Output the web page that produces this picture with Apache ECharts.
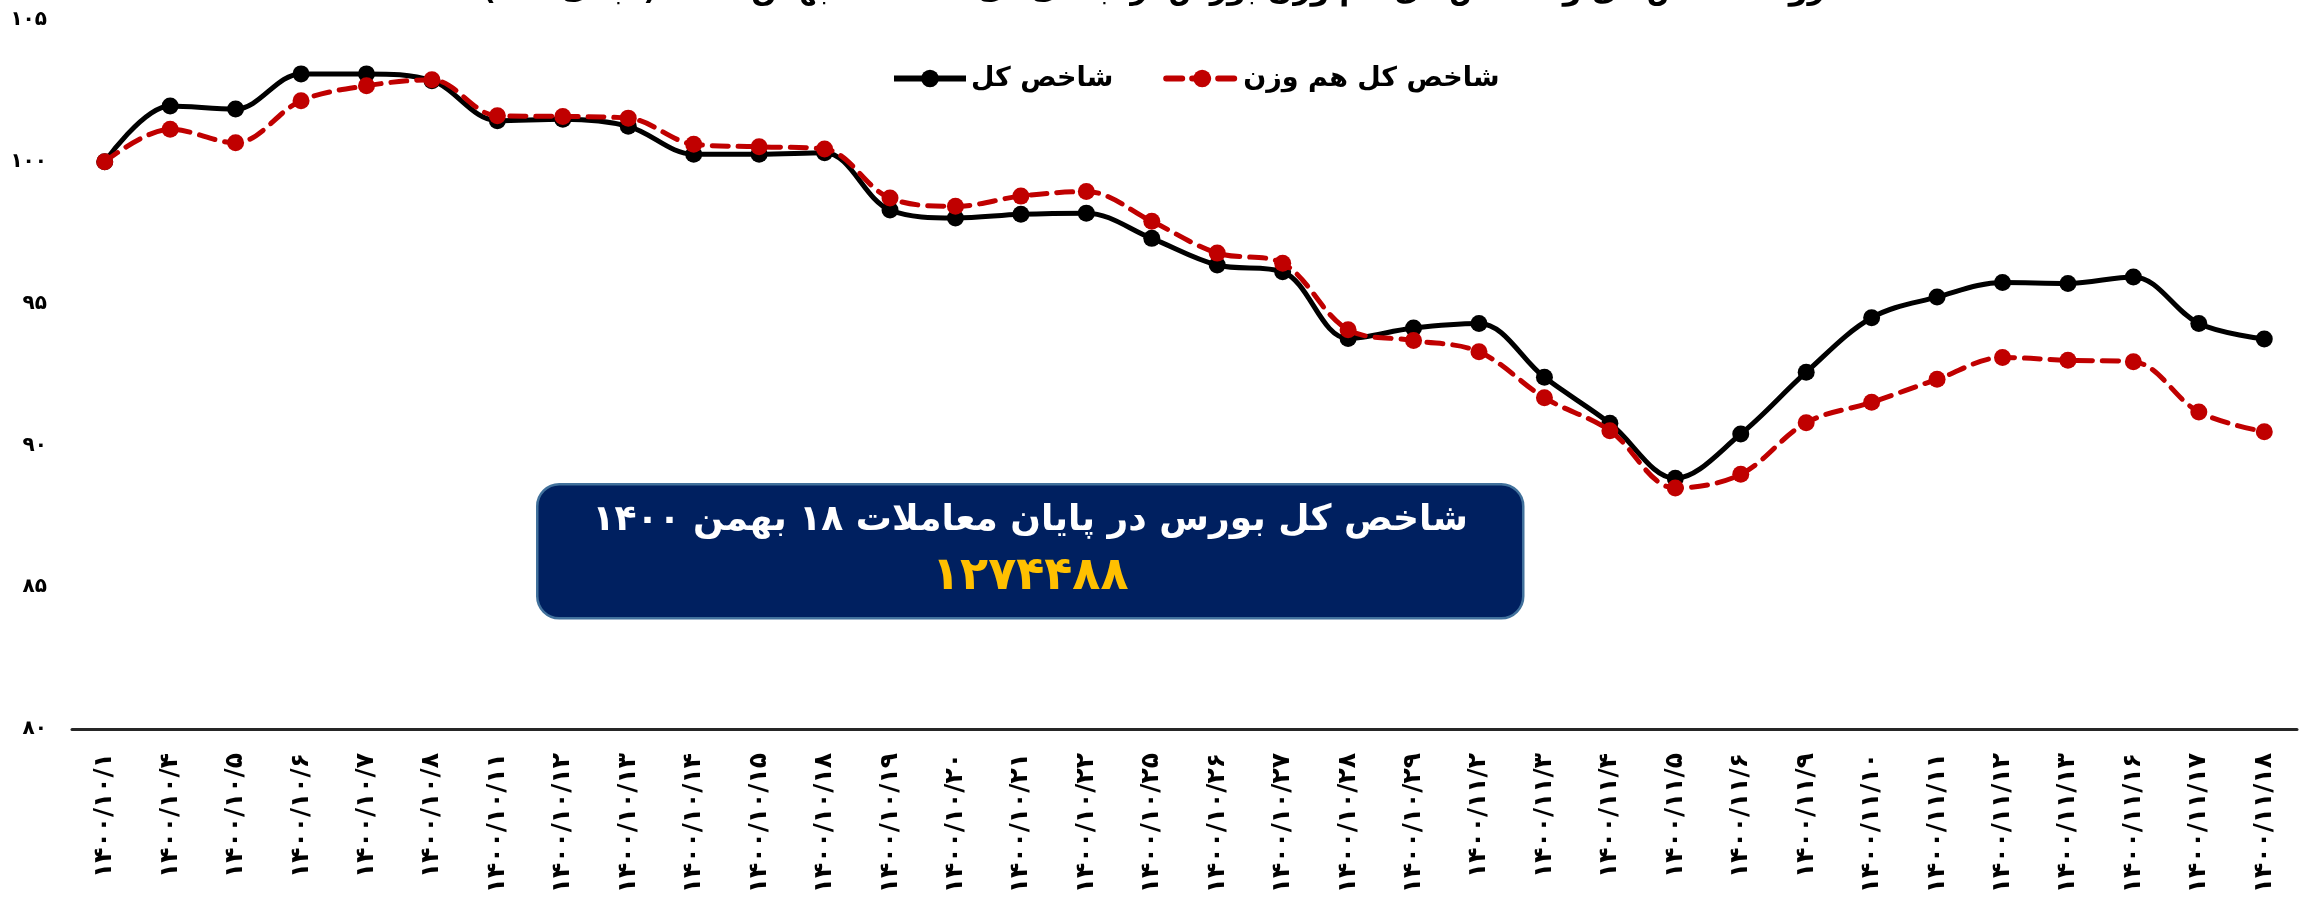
<!DOCTYPE html>
<html>
<head>
<meta charset="utf-8">
<script src="https://cdn.jsdelivr.net/npm/echarts@6/dist/echarts.min.js"></script>
<style>
  html, body { margin: 0; padding: 0; background: #ffffff; }
  #chart { width: 2307px; height: 906px; }
</style>
</head>
<body>
<div id="chart"></div>
<script>
// ---- data ----
var categories = [
  '۱۴۰۰/۱۰/۱', '۱۴۰۰/۱۰/۴', '۱۴۰۰/۱۰/۵', '۱۴۰۰/۱۰/۶', '۱۴۰۰/۱۰/۷', '۱۴۰۰/۱۰/۸',
  '۱۴۰۰/۱۰/۱۱', '۱۴۰۰/۱۰/۱۲', '۱۴۰۰/۱۰/۱۳', '۱۴۰۰/۱۰/۱۴', '۱۴۰۰/۱۰/۱۵', '۱۴۰۰/۱۰/۱۸',
  '۱۴۰۰/۱۰/۱۹', '۱۴۰۰/۱۰/۲۰', '۱۴۰۰/۱۰/۲۱', '۱۴۰۰/۱۰/۲۲', '۱۴۰۰/۱۰/۲۵', '۱۴۰۰/۱۰/۲۶',
  '۱۴۰۰/۱۰/۲۷', '۱۴۰۰/۱۰/۲۸', '۱۴۰۰/۱۰/۲۹', '۱۴۰۰/۱۱/۲', '۱۴۰۰/۱۱/۳', '۱۴۰۰/۱۱/۴',
  '۱۴۰۰/۱۱/۵', '۱۴۰۰/۱۱/۶', '۱۴۰۰/۱۱/۹', '۱۴۰۰/۱۱/۱۰', '۱۴۰۰/۱۱/۱۱', '۱۴۰۰/۱۱/۱۲',
  '۱۴۰۰/۱۱/۱۳', '۱۴۰۰/۱۱/۱۶', '۱۴۰۰/۱۱/۱۷', '۱۴۰۰/۱۱/۱۸'
];
var totalIndex = [
  100.0, 101.97, 101.86, 103.1, 103.1, 102.86, 101.45, 101.5, 101.25, 100.27,
  100.27, 100.32, 98.3, 98.02, 98.15, 98.19, 97.3, 96.36, 96.12, 93.77,
  94.14, 94.3, 92.4, 90.78, 88.84, 90.4, 92.58, 94.5, 95.23, 95.74,
  95.71, 95.94, 94.3, 93.75
];
var equalWeightIndex = [
  100.0, 101.15, 100.67, 102.15, 102.68, 102.89, 101.62, 101.6, 101.54, 100.62,
  100.53, 100.45, 98.72, 98.43, 98.79, 98.95, 97.9, 96.78, 96.42, 94.08,
  93.7, 93.3, 91.68, 90.52, 88.5, 88.98, 90.8, 91.52, 92.33, 93.1,
  93.0, 92.95, 91.18, 90.48
];
var seriesNames = ['شاخص کل', 'شاخص کل هم وزن'];
var yTickValues = [80, 85, 90, 95, 100, 105];
var yTickLabels = ['۸۰', '۸۵', '۹۰', '۹۵', '۱۰۰', '۱۰۵'];
var titleText = 'روند شاخص کل و شاخص کل هم وزن بورس از ابتدای دی ماه تا ۱۸ بهمن ۱۴۰۰ (مبنای ۱۰۰)';
var boxLine1 = 'شاخص کل بورس در پایان معاملات ۱۸ بهمن ۱۴۰۰';
var boxLine2 = '۱۲۷۴۴۸۸';

var FONT = '"DejaVu Sans", "Noto Sans", sans-serif';
var RTL = function (s) { return '\u202B' + s + '\u202C'; };

var chart = echarts.init(document.getElementById('chart'), null, { renderer: 'canvas' });
chart.setOption({
  backgroundColor: '#ffffff',
  animation: false,
  grid: { left: 72, right: 10, top: 20, bottom: 177, containLabel: false },
  legend: {
    data: seriesNames,
    left: 886,
    top: 60,
    itemWidth: 72,
    itemHeight: 22,
    itemGap: 50,
    lineStyle: { width: 6 },
    textStyle: { fontFamily: FONT, fontSize: 27, fontWeight: 'bold', color: '#000' }
  },
  xAxis: {
    type: 'category',
    data: categories,
    boundaryGap: true,
    axisTick: { show: false },
    axisLine: { show: true, lineStyle: { color: '#262626', width: 3 } },
    axisLabel: {
      interval: 0,
      rotate: 90,
      margin: 24,
      fontFamily: FONT,
      fontSize: 25,
      fontWeight: 'bold',
      color: '#000'
    },
    splitLine: { show: false }
  },
  yAxis: {
    type: 'value',
    min: 80,
    max: 105,
    interval: 5,
    axisLine: { show: false },
    axisTick: { show: false },
    splitLine: { show: false },
    axisLabel: {
      margin: 25,
      fontFamily: FONT,
      fontSize: 20,
      fontWeight: 'bold',
      color: '#000',
      formatter: function (v) {
        var i = yTickValues.indexOf(v);
        return i >= 0 ? yTickLabels[i] : '';
      }
    }
  },
  series: [
    {
      name: seriesNames[0],
      type: 'line',
      data: totalIndex,
      smooth: 0.35,
      symbol: 'circle',
      symbolSize: 17,
      itemStyle: { color: '#000000' },
      lineStyle: { color: '#000000', width: 5 },
      z: 2
    },
    {
      name: seriesNames[1],
      type: 'line',
      data: equalWeightIndex,
      smooth: 0.35,
      symbol: 'circle',
      symbolSize: 17,
      itemStyle: { color: '#C00000' },
      lineStyle: { color: '#C00000', width: 5, type: [16, 10], cap: 'round' },
      z: 3
    }
  ],
  graphic: [
    {
      type: 'text',
      left: 'center',
      top: -24,
      style: {
        text: RTL(titleText),
        fontFamily: FONT,
        fontSize: 30,
        fontWeight: 'bold',
        fill: '#000'
      }
    },
    {
      type: 'group',
      left: 536,
      top: 483,
      children: [
        {
          type: 'rect',
          shape: { x: 0, y: 0, width: 986, height: 134, r: 22 },
          style: { fill: '#002060', stroke: '#41719C', lineWidth: 2.5 }
        },
        {
          type: 'text',
          x: 493,
          y: 36,
          style: {
            text: RTL(boxLine1),
            align: 'center',
            verticalAlign: 'middle',
            fontFamily: FONT,
            fontSize: 36,
            fontWeight: 'bold',
            fill: '#ffffff'
          }
        },
        {
          type: 'text',
          x: 493,
          y: 93,
          style: {
            text: boxLine2,
            align: 'center',
            verticalAlign: 'middle',
            fontFamily: FONT,
            fontSize: 46,
            fontWeight: 'bold',
            fill: '#FFC000'
          }
        }
      ]
    }
  ]
});
</script>
</body>
</html>
